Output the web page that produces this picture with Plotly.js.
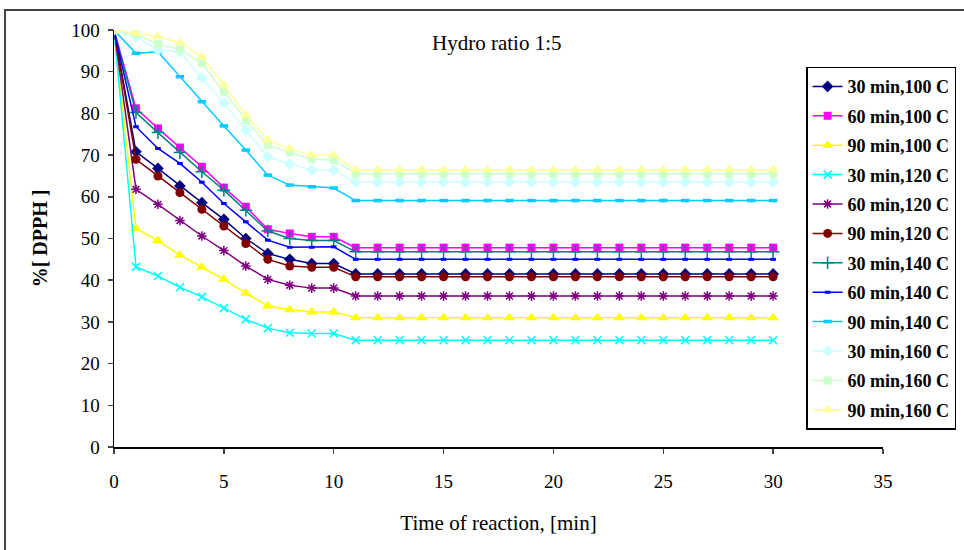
<!DOCTYPE html>
<html>
<head>
<meta charset="utf-8">
<script src="https://cdn.plot.ly/plotly-3.0.1.min.js"></script>
<style>
html,body{margin:0;padding:0;background:#fff;}
#chart{width:964px;height:550px;}
</style>
</head>
<body>
<div id="chart"></div>
<script>
// Time axis (minutes)
const time = [0,1,2,3,4,5,6,7,8,9,10,11,12,13,14,15,16,17,18,19,20,21,22,23,24,25,26,27,28,29,30];

// Early part (t = 0..11); plateau value thereafter
const s30_100 = [100,70.8,66.8,62.6,58.6,54.6,50.0,46.4,45.0,44.0,44.0,41.5,41.5,41.5,41.5,41.5,41.5,41.5,41.5,41.5,41.5,41.5,41.5,41.5,41.5,41.5,41.5,41.5,41.5,41.5,41.5];
const s60_100 = [100,81.2,76.4,71.8,67.2,62.2,57.6,52.2,51.2,50.4,50.4,47.8,47.8,47.8,47.8,47.8,47.8,47.8,47.8,47.8,47.8,47.8,47.8,47.8,47.8,47.8,47.8,47.8,47.8,47.8,47.8];
const s90_100 = [100,52.4,49.5,46.0,43.1,40.2,36.9,33.8,32.9,32.4,32.4,31.0,31.0,31.0,31.0,31.0,31.0,31.0,31.0,31.0,31.0,31.0,31.0,31.0,31.0,31.0,31.0,31.0,31.0,31.0,31.0];
const s30_120 = [100,43.2,41.0,38.3,36.0,33.3,30.6,28.5,27.4,27.2,27.2,25.6,25.6,25.6,25.6,25.6,25.6,25.6,25.6,25.6,25.6,25.6,25.6,25.6,25.6,25.6,25.6,25.6,25.6,25.6,25.6];
const s60_120 = [100,61.8,58.2,54.3,50.6,47.1,43.4,40.2,38.8,38.1,38.1,36.2,36.2,36.2,36.2,36.2,36.2,36.2,36.2,36.2,36.2,36.2,36.2,36.2,36.2,36.2,36.2,36.2,36.2,36.2,36.2];
const s90_120 = [100,69.0,65.0,61.0,57.0,53.0,48.8,45.0,43.4,43.1,43.1,40.8,40.8,40.8,40.8,40.8,40.8,40.8,40.8,40.8,40.8,40.8,40.8,40.8,40.8,40.8,40.8,40.8,40.8,40.8,40.8];
const s30_140 = [100,80.2,75.4,70.6,66.0,61.6,56.8,51.8,50.0,49.5,49.5,46.8,46.8,46.8,46.8,46.8,46.8,46.8,46.8,46.8,46.8,46.8,46.8,46.8,46.8,46.8,46.8,46.8,46.8,46.8,46.8];
const s60_140 = [100,76.8,71.6,68.0,63.5,58.4,54.0,49.6,47.9,47.9,48.0,45.0,45.0,45.0,45.0,45.0,45.0,45.0,45.0,45.0,45.0,45.0,45.0,45.0,45.0,45.0,45.0,45.0,45.0,45.0,45.0];
const s90_140 = [100,94.4,94.8,88.8,82.8,77.0,71.2,65.2,62.8,62.4,62.1,59.1,59.1,59.1,59.1,59.1,59.1,59.1,59.1,59.1,59.1,59.1,59.1,59.1,59.1,59.1,59.1,59.1,59.1,59.1,59.1];
const s30_160 = [100,98.4,95.2,94.8,88.5,82.5,76.0,69.6,67.9,66.4,66.4,63.5,63.5,63.5,63.5,63.5,63.5,63.5,63.5,63.5,63.5,63.5,63.5,63.5,63.5,63.5,63.5,63.5,63.5,63.5,63.5];
const s60_160 = [100,99.0,96.6,95.4,92.0,85.2,78.4,72.4,70.7,69.0,68.8,65.5,65.5,65.5,65.5,65.5,65.5,65.5,65.5,65.5,65.5,65.5,65.5,65.5,65.5,65.5,65.5,65.5,65.5,65.5,65.5];
const s90_160 = [100,99.2,98.4,97.0,93.6,86.8,79.6,73.6,71.5,70.0,70.0,66.5,66.5,66.5,66.5,66.5,66.5,66.5,66.5,66.5,66.5,66.5,66.5,66.5,66.5,66.5,66.5,66.5,66.5,66.5,66.5];

const names = ["30 min,100 C","60 min,100 C","90 min,100 C","30 min,120 C","60 min,120 C","90 min,120 C",
               "30 min,140 C","60 min,140 C","90 min,140 C","30 min,160 C","60 min,160 C","90 min,160 C"];
const seriesData = [s30_100,s60_100,s90_100,s30_120,s60_120,s90_120,s30_140,s60_140,s90_140,s30_160,s60_160,s90_160];

const styles = [
  {c:"#000080", sym:"diamond", size:9, lw:0},
  {c:"#FF00FF", sym:"square", size:8, lw:0},
  {c:"#FFFF00", sym:"triangle-up", size:10, lw:0},
  {c:"#00FFFF", sym:"x-thin-open", size:8, lw:1.5},
  {c:"#800080", sym:"asterisk-open", size:8, lw:1.5},
  {c:"#800000", sym:"circle", size:9, lw:0},
  {c:"#008080", sym:"cross-thin-open", size:9, lw:1.5},
  {c:"#0000FF", sym:"line-ew-open", size:4, lw:3},
  {c:"#00CCFF", sym:"line-ew-open", size:6, lw:3.5},
  {c:"#CCFFFF", sym:"diamond", size:9, lw:0},
  {c:"#CCFFCC", sym:"square", size:8, lw:0},
  {c:"#FFFF99", sym:"triangle-up", size:10, lw:0}
];

const traces = seriesData.map((ys,i)=>({
  x: time, y: ys, name: names[i], type:"scatter", mode:"lines+markers",
  legendgroup: "g"+i,
  line:{color:styles[i].c, width:1.5},
  marker:{symbol:styles[i].sym, size:styles[i].size, color:styles[i].c,
          line:{color:styles[i].c, width:styles[i].lw}}
}));

const fontFam = "Liberation Serif, Times New Roman, serif";

const layout = {
  width:964, height:550,
  margin:{l:114, r:81, t:30, b:103, autoexpand:false},
  paper_bgcolor:"#fff", plot_bgcolor:"#fff",
  showlegend:true,
  font:{family:fontFam, color:"#000", size:15},
  xaxis:{
    range:[0,35], tickvals:[0,5,10,15,20,25,30,35], ticks:"outside", ticklen:5, tickwidth:1.5,
    showgrid:false, zeroline:false, showline:true, linecolor:"#000", linewidth:1.5,
    tickfont:{family:fontFam, size:19, color:"#000"}, ticklabelstandoff:12, automargin:false,
    title:{text:"Time of reaction, [min]", font:{family:fontFam, size:21, color:"#000"}, standoff:24}
  },
  yaxis:{
    range:[0,100], tickvals:[0,10,20,30,40,50,60,70,80,90,100], ticks:"outside", ticklen:5, tickwidth:1.5,
    showgrid:false, zeroline:false, showline:true, linecolor:"#000", linewidth:1.5,
    tickfont:{family:fontFam, size:19, color:"#000"}, ticklabelstandoff:4, automargin:false,
    title:{text:"<b>%[ DPPH ]</b>", font:{family:fontFam, size:20, color:"#000"}, standoff:18}
  },
  legend:{
    x:0.9, y:0.912, xanchor:"left", yanchor:"top",
    bgcolor:"#fff", bordercolor:"#000", borderwidth:1.5,
    font:{family:fontFam, size:18, color:"#000", weight:"bold"},
    tracegroupgap:3, itemwidth:30
  },
  annotations:[{
    text:"Hydro ratio 1:5", xref:"paper", yref:"paper", x:0.498, y:0.969,
    xanchor:"center", yanchor:"middle", showarrow:false,
    font:{family:fontFam, size:21, color:"#000"}
  }],
  shapes:[{
    type:"rect", xref:"paper", yref:"paper",
    x0:-0.1417, x1:1.3, y0:-0.4, y1:1.048,
    line:{color:"#444", width:2}, fillcolor:"rgba(0,0,0,0)", layer:"below"
  }]
};

Plotly.newPlot("chart", traces, layout, {displayModeBar:false, staticPlot:true});
</script>
</body>
</html>
